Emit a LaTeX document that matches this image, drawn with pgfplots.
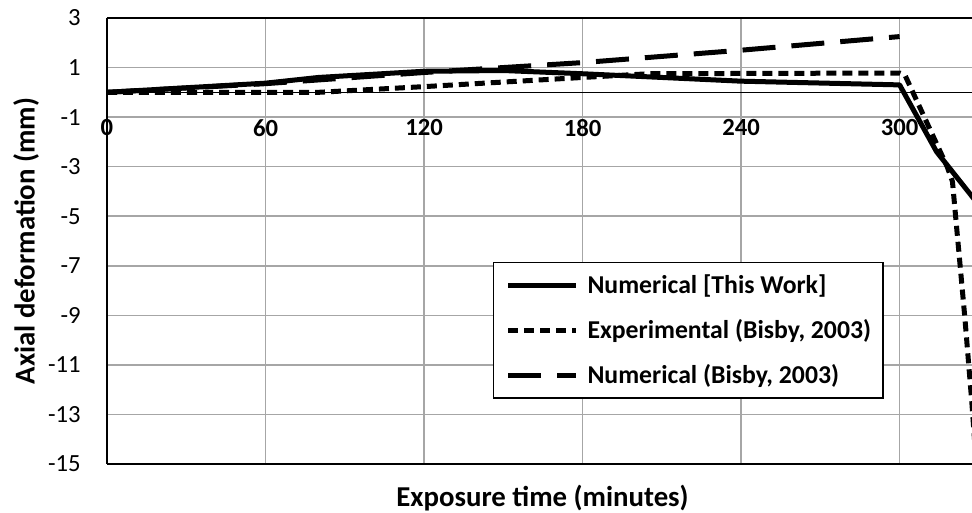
\documentclass[border=0pt]{standalone}
\usepackage{fontspec}
\setmainfont{Carlito}
\usepackage{pgfplots}
\pgfplotsset{compat=1.18}
\definecolor{gridgray}{RGB}{166,166,166}
\begin{document}
\begin{tikzpicture}
\begin{axis}[
  scale only axis,
  width=648.75pt, height=334.5pt,
  xmin=0, xmax=327.4, ymin=-15, ymax=3,
  xtick={0,60,120,180,240,300},
  ytick={-15,-13,...,3},
  axis x line*=box, axis y line*=left,
  axis line style={black, line width=1.1pt},
  major tick length=0pt,
  grid=major,
  major grid style={gridgray, line width=1.1pt},
  /pgf/number format/assume math mode=true,
  xticklabel style={font=\fontsize{18.5}{22}\selectfont\bfseries, anchor=north, inner sep=0pt, yshift=258.75pt},
  yticklabel style={font=\fontsize{18.5}{22}\selectfont, anchor=east, inner sep=0pt, xshift=-19.5pt},
  xlabel={Exposure time (minutes)},
  ylabel={Axial deformation (mm)},
  xlabel style={font=\fontsize{21.6}{26}\selectfont\bfseries, at={(axis description cs:0.5035,-0.0762)}, anchor=center},
  ylabel style={font=\fontsize{21.6}{26}\selectfont\bfseries, at={(axis description cs:-0.0936,0.5)}, anchor=center},
  legend style={at={(rel axis cs:0.446,0.453)}, anchor=north west, draw=black, line width=1.1pt,
    inner xsep=9pt, inner ysep=7pt, font=\fontsize{19.3}{23}\selectfont\bfseries,
    row sep=13.75pt, nodes={inner sep=0pt, text height=16pt, text depth=4pt},
    /tikz/every odd column/.append style={column sep=6.75pt}},
  legend cell align=left,
  legend image code/.code={\draw[#1] (0pt,0pt) -- (51pt,0pt);},
]
\draw[black, line width=0.9pt] (axis cs:0,0) -- (axis cs:327.4,0);
\addplot[black, line width=3.75pt, line join=round] coordinates {(0,0) (60,0.37) (80,0.6) (120,0.85) (150,0.88) (180,0.75) (240,0.45) (300,0.3) (314,-2.4) (327.4,-4.2) (330,-4.55)};
\addlegendentry{Numerical [This Work]}
\addplot[black, line width=3.75pt, line join=round, dash pattern=on 7.5pt off 4.5pt] coordinates {(0,0) (80,0) (120,0.23) (180,0.6) (205,0.75) (300,0.78) (302,0.7) (318,-3.0) (320,-3.6) (324.7,-9.1) (327.4,-12.6) (329,-15)};
\addlegendentry{Experimental (Bisby, 2003)}
\addplot[black, line width=3.75pt, line join=round, dash pattern=on 24.75pt off 12pt] coordinates {(0,0) (60,0.35) (120,0.8) (180,1.2) (240,1.7) (300,2.25)};
\addlegendentry{Numerical (Bisby, 2003)}
\end{axis}
\pgfresetboundingbox
\path (-80.25pt,-36.75pt) rectangle (648.75pt,348pt);
\end{tikzpicture}
\end{document}
